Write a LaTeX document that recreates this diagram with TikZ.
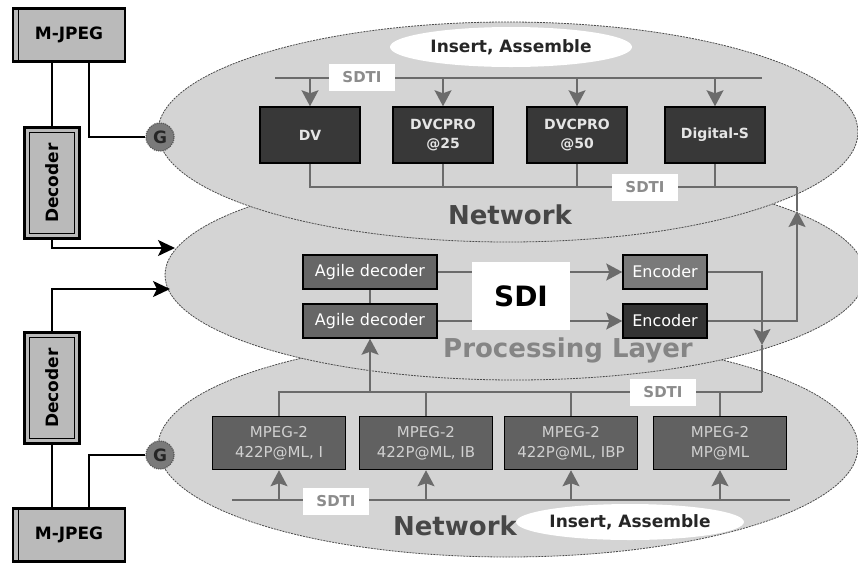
\documentclass[tikz,border=0pt]{standalone}
\usepackage{fontspec}
\setmainfont{DejaVu Sans}
\usetikzlibrary{arrows.meta,shapes.geometric}
\definecolor{laygray}{RGB}{212,212,212}
\definecolor{boxgray}{RGB}{186,186,186}
\newcommand{\fsz}[2]{\fontsize{#1}{#2}\selectfont}

\begin{document}
\begin{tikzpicture}[x=1pt, y=-1pt,
  lay/.style={fill=laygray, draw=black!70, line width=0.8pt, dash pattern=on 2pt off 1pt},
  gline/.style={draw=black!58, line width=1.4pt},
  garr/.style={gline, -{Stealth[length=16pt,width=17pt,inset=3pt]}},
  bline/.style={draw=black, line width=1.8pt},
  barr/.style={bline, -{Stealth[length=17pt,width=16pt,inset=4pt]}},
  fmt/.style={draw=black, line width=1.5pt, fill=#1, align=center, inner sep=0pt},
  tape/.style={fmt=black!78, minimum width=100pt, minimum height=56pt, text=black!10, font=\bfseries\fsz{14}{19}},
  mpeg/.style={fmt=black!62, minimum width=133pt, minimum height=53pt, text=black!18, font=\fsz{15}{20}},
  proc/.style={fmt=#1, minimum height=34pt, text=white, font=\fsz{16}{18}},
  sdti/.style={fill=white, text=black!45, font=\bfseries\fsz{15}{17}, minimum width=66pt, minimum height=27pt, inner sep=0pt},
  ins/.style={ellipse, fill=white, text=black!85, font=\bfseries\fsz{17}{19}, inner sep=0pt},
  layname/.style={font=\bfseries\fsz{26}{28}, text=#1},
  mj/.style={draw=black, line width=2.4pt, fill=boxgray, minimum width=112pt, minimum height=53pt, inner sep=0pt, font=\bfseries\fsz{17}{20},
    path picture={\draw[line width=1pt] ([xshift=5pt]path picture bounding box.north west) -- ([xshift=5pt]path picture bounding box.south west);}},
  dec/.style={draw=black, line width=2.4pt, fill=boxgray, minimum width=55pt, minimum height=111pt, inner sep=0pt, font=\bfseries\fsz{17}{20},
    path picture={\draw[line width=0.9pt] ([shift={(5pt,-5pt)}]path picture bounding box.north west) rectangle ([shift={(-5pt,5pt)}]path picture bounding box.south east);}},
  gate/.style={circle, fill=black!52, draw=black!65, densely dotted, line width=1.2pt, minimum size=28pt, inner sep=0pt, text=black!85, font=\bfseries\fsz{17}{19}}]
\useasboundingbox (0,0) rectangle (858,563);

% the three layers
\draw[lay] (508,447) ellipse [x radius=350, y radius=110];
\draw[lay] (515,275) ellipse [x radius=350, y radius=105];
\draw[lay] (508,132) ellipse [x radius=350, y radius=110];
\node[layname=black!72] (nettop) at (510,215) {Network};
\node[layname=black!48] (proclay) at (568,350) {Processing Layer};
\node[layname=black!72] (netbot) at (455,526) {Network};

% top network
\node[ins, minimum width=242pt, minimum height=40pt] (instop) at (511,47) {Insert, Assemble};
\coordinate (ta) at (275,78);
\coordinate (tb) at (762,78);
\draw[gline] (ta) -- (tb);
\node[sdti] (sdtiA) at (362,77) {SDTI};
\node[tape] (dv) at (310,135) {DV};
\node[tape] (dvA) at (443,135) {DVCPRO\\@25};
\node[tape] (dvB) at (577,135) {DVCPRO\\@50};
\node[tape] (digs) at (715,135) {Digital-S};
\foreach \n in {dv,dvA,dvB,digs} \draw[garr] (\n.north |- ta) -- (\n.north);
\coordinate (tc) at (797,187);
\draw[gline] (dv.south) |- (tc);
\foreach \n in {dvA,dvB,digs} \draw[gline] (\n.south) -- (\n.south |- tc);
\node[sdti] (sdtiB) at (645,187) {SDTI};

% processing layer
\node[proc=black!60, minimum width=134pt] (agA) at (370,272) {Agile decoder};
\node[proc=black!60, minimum width=134pt] (agB) at (370,321) {Agile decoder};
\node[proc=black!52, minimum width=84pt] (encA) at (665,272) {Encoder};
\node[proc=black!80, minimum width=84pt] (encB) at (665,321) {Encoder};
\draw[gline] (agA) -- (agB);
\draw[garr] (agA) -- (encA);
\draw[garr] (agB) -- (encB);
\node[fill=white, minimum width=98pt, minimum height=68pt, font=\bfseries\fsz{28}{30}] (sdi) at (521,296) {SDI};
\coordinate (up) at (797,211);
\draw[garr] (encB) -| (up);
\draw[gline] (up) -- (tc);
\coordinate (bt) at (762,392);
\coordinate (dn) at (762,345);
\draw[garr] (encA) -| (dn);
\draw[gline] (dn) -- (bt);

% bottom network
\coordinate (ba) at (278,392);
\draw[gline] (ba) -- (bt);
\node[sdti] (sdtiC) at (663,392) {SDTI};
\node[mpeg] (mpA) at (279,443) {MPEG-2\\422P@ML, I};
\node[mpeg] (mpB) at (426,443) {MPEG-2\\422P@ML, IB};
\node[mpeg] (mpC) at (571,443) {MPEG-2\\422P@ML, IBP};
\node[mpeg] (mpD) at (720,443) {MPEG-2\\MP@ML};
\foreach \n in {mpA,mpB,mpC,mpD} \draw[gline] (\n.north |- ba) -- (\n.north);
\draw[garr] (agB.south |- ba) -- (agB.south);
\coordinate (bc) at (232,500);
\coordinate (bd) at (790,500);
\draw[gline] (bc) -- (bd);
\node[sdti] (sdtiD) at (336,501) {SDTI};
\foreach \n in {mpA,mpB,mpC,mpD} \draw[garr] (\n.south |- bc) -- (\n.south);
\node[ins, minimum width=205pt, minimum height=36pt] (insbot) at (630,522) {Insert, Assemble};

% sources on the left
\node[mj] (mjA) at (69,35) {M-JPEG};
\node[dec] (decA) at (52,183) {\rotatebox{90}{Decoder}};
\node[dec] (decB) at (52,388) {\rotatebox{90}{Decoder}};
\node[mj] (mjB) at (69,535) {M-JPEG};
\node[gate] (gA) at (160,137) {G};
\node[gate] (gB) at (160,455) {G};
\coordinate (inA) at (175,248);
\coordinate (inB) at (170,289);
\draw[bline] (decA.north |- mjA.south) -- (decA.north);
\draw[bline] ([xshift=20pt]mjA.south) |- (gA);
\draw[barr] (decA.south) |- (inA);
\draw[barr] (decB.north) |- (inB);
\draw[bline] (decB.south) -- (decB.south |- mjB.north);
\draw[bline] ([xshift=20pt]mjB.north) |- (gB);
\end{tikzpicture}
\end{document}
